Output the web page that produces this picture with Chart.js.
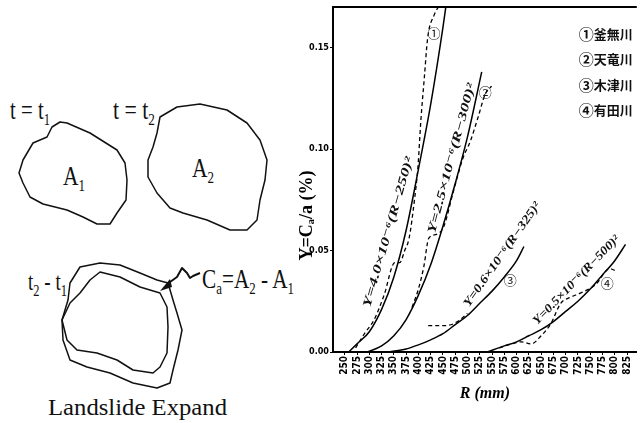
<!DOCTYPE html>
<html lang="ja">
<head>
  <meta charset="UTF-8">
  <title>Landslide Expand - Y = Ca/a と R</title>
  <script src="https://cdn.jsdelivr.net/npm/chart.js"></script>
  <style>
    html, body { margin: 0; padding: 0; background: #fff; }
    .page { position: relative; width: 640px; height: 423px; overflow: hidden; }
    .sketch { position: absolute; left: 0; top: 0; }
    .sketch text { font-family: "Liberation Serif", "Times New Roman", Tinos, "DejaVu Serif", "Noto Serif", serif; }
    .chart-box { position: absolute; left: 295px; top: 0; width: 345px; height: 423px; }
  </style>
</head>
<body>
<div class="page">
  <!-- left: landslide area sketch -->
  <svg class="sketch" width="295" height="423" viewBox="0 0 295 423">
    <g fill="none" stroke="#111" stroke-width="1.5" stroke-linejoin="round">
      <polygon points="60,122 67,123 90,133 117,150 125,163 127,180 126,200 117,213 110,224 97,224 83,217 67,210 43,204 30,197 23,183 19,173 23,160 33,143 47,137 52,127" />
      <polygon points="160,117 177,107 200,104 227,110 247,123 260,140 267,160 265,180 260,200 257,220 247,230 230,230 207,220 183,213 170,208 157,193 148,177 148,160 153,147 157,133" />
      <polygon points="80,267 100,263 120,265 140,273 157,280 168,283 173,300 177,313 182,330 178,350 173,370 170,383 157,388 133,383 110,373 87,367 70,360 63,340 62,320 68,300 70,283" />
      <polygon points="100,272 120,277 140,287 160,293 167,307 168,327 167,353 160,367 153,373 133,370 117,360 97,353 77,350 67,340 62,320 70,303 80,293 90,280" />
      <polyline points="200,273 193,276 190,278 187,273 182,268 177,277 170,282 166,286" stroke-width="2" />
    </g>
    <polygon points="160,291 170,279 172,287" fill="#111" />
    <g fill="#111">
      <text x="10" y="119" font-size="28" textLength="40" lengthAdjust="spacingAndGlyphs">t = t<tspan dy="6" font-size="17">1</tspan></text>
      <text x="113" y="119" font-size="28" textLength="42" lengthAdjust="spacingAndGlyphs">t = t<tspan dy="6" font-size="17">2</tspan></text>
      <text x="63" y="185" font-size="28" textLength="22" lengthAdjust="spacingAndGlyphs">A<tspan dy="6" font-size="17">1</tspan></text>
      <text x="192" y="177" font-size="28" textLength="22" lengthAdjust="spacingAndGlyphs">A<tspan dy="6" font-size="17">2</tspan></text>
      <text x="28" y="290" font-size="26" textLength="39" lengthAdjust="spacingAndGlyphs">t<tspan dy="6" font-size="17">2</tspan><tspan dy="-6"> - t</tspan><tspan dy="6" font-size="17">1</tspan></text>
      <text x="202" y="288" font-size="28" textLength="92" lengthAdjust="spacingAndGlyphs">C<tspan dy="6" font-size="17">a</tspan><tspan dy="-6">=A</tspan><tspan dy="6" font-size="17">2</tspan><tspan dy="-6"> - A</tspan><tspan dy="6" font-size="17">1</tspan></text>
      <text x="48" y="415" font-size="23" textLength="179" lengthAdjust="spacingAndGlyphs">Landslide Expand</text>
    </g>
  </svg>

  <div class="chart-box"><canvas id="expandChart" width="345" height="423"></canvas></div>
</div>

<script>
  // tick labels
  const xTicks = [250, 275, 300, 325, 350, 375, 400, 425, 450, 475, 500, 525, 550, 575, 600, 625, 650, 675, 700, 725, 750, 775, 800, 825];
  const yTicks = [0, 0.05, 0.10, 0.15];

  const marks = ["①", "②", "③", "④"];
  const rivers = ["釜無川", "天竜川", "木津川", "有田川"];
  const fitLabels = [
    "Y=4.0×10⁻⁶(R−250)²",
    "Y=2.5×10⁻⁶(R−300)²",
    "Y=0.6×10⁻⁶(R−325)²",
    "Y=0.5×10⁻⁶(R−500)²"
  ];

  // fitted curves (solid)
  const fit1R = [258, 275, 300, 325, 350, 375, 400, 425, 450, 457];
  const fit1Y = [0, 0.004, 0.010, 0.021, 0.037, 0.060, 0.090, 0.122, 0.160, 0.172];
  const fit2R = [296, 325, 350, 375, 400, 425, 450, 475, 500, 529];
  const fit2Y = [0, 0.003, 0.008, 0.016, 0.028, 0.043, 0.062, 0.083, 0.106, 0.138];
  const fit3R = [340, 375, 400, 425, 450, 475, 500, 525, 550, 575, 600, 615];
  const fit3Y = [0, 0.0015, 0.0035, 0.006, 0.009, 0.0135, 0.018, 0.024, 0.030, 0.037, 0.045, 0.052];
  const fit4R = [540, 575, 600, 625, 650, 675, 700, 725, 750, 775, 800, 822];
  const fit4Y = [0, 0.003, 0.005, 0.008, 0.011, 0.015, 0.020, 0.025, 0.031, 0.038, 0.045, 0.053];

  // observed (dashed)
  const obs1R = [272, 290, 310, 330, 352, 362, 372, 381, 392, 399, 405, 412, 419, 432, 446];
  const obs1Y = [0.002, 0.009, 0.016, 0.028, 0.044, 0.044, 0.050, 0.056, 0.075, 0.091, 0.114, 0.135, 0.155, 0.166, 0.172];
  const obs2R = [387, 400, 411, 421, 437, 452, 470, 490, 506, 522, 536, 549];
  const obs2Y = [0.022, 0.031, 0.042, 0.056, 0.058, 0.062, 0.078, 0.095, 0.104, 0.116, 0.127, 0.131];
  const obs3R = [420, 438, 456, 480, 500];
  const obs3Y = [0.013, 0.013, 0.013, 0.015, 0.019];
  const obs4R = [565, 590, 610, 630, 650, 670, 690, 710, 730, 760, 790, 802];
  const obs4Y = [0.002, 0.004, 0.005, 0.004, 0.008, 0.014, 0.024, 0.027, 0.029, 0.033, 0.041, 0.040];

  // where the equation / circled numbers sit (data units) and their tilt
  const eqAt = [[339, 0.059], [468, 0.0954], [571, 0.048], [722, 0.0354]];
  const eqAngle = [-74, -75, -55, -46];
  const eqLength = [156, 155, 125, 119];
  const markAt = [[432, 0.157], [536, 0.128], [587, 0.0354], [785, 0.0339]];

  function pts(rs, ys) {
    return rs.map((r, i) => ({ x: r, y: ys[i] }));
  }

  const solid = { borderColor: "#000", borderWidth: 1.5, pointRadius: 0, cubicInterpolationMode: "monotone", fill: false };
  const dashed = { borderColor: "#000", borderWidth: 1.3, borderDash: [4, 3], pointRadius: 0, cubicInterpolationMode: "monotone", fill: false };

  const fits = [[fit1R, fit1Y], [fit2R, fit2Y], [fit3R, fit3Y], [fit4R, fit4Y]];
  const obs = [[obs1R, obs1Y], [obs2R, obs2Y], [obs3R, obs3Y], [obs4R, obs4Y]];

  const datasets = [];
  fits.forEach((f, i) => datasets.push({ ...solid, label: marks[i] + " " + rivers[i] + " " + fitLabels[i], data: pts(f[0], f[1]) }));
  obs.forEach((o, i) => datasets.push({ ...dashed, label: marks[i] + " " + rivers[i] + " 実測", data: pts(o[0], o[1]) }));

  const serifFont = '"Liberation Serif", "Times New Roman", Tinos, "DejaVu Serif", serif';

  // equations, circled numbers, legend and top frame line
  const annotate = {
    id: "annotate",
    afterDatasetsDraw(chart) {
      const { ctx, chartArea, scales: { x, y } } = chart;
      ctx.save();
      ctx.strokeStyle = "#000";
      ctx.lineWidth = 2;
      ctx.beginPath();
      ctx.moveTo(chartArea.left, chartArea.top);
      ctx.lineTo(chartArea.right, chartArea.top);
      ctx.stroke();

      ctx.fillStyle = "#111";
      ctx.textAlign = "center";
      ctx.textBaseline = "middle";
      ctx.font = "italic bold 12px " + serifFont;
      fitLabels.forEach((t, i) => {
        const w = ctx.measureText(t).width;
        ctx.save();
        ctx.translate(x.getPixelForValue(eqAt[i][0]), y.getPixelForValue(eqAt[i][1]));
        ctx.rotate(eqAngle[i] * Math.PI / 180);
        ctx.scale(eqLength[i] / w, 1);
        ctx.fillText(t, 0, 0);
        ctx.restore();
      });

      ctx.font = '13px "Noto Sans CJK JP", sans-serif';
      marks.forEach((m, i) => {
        ctx.fillText(m, x.getPixelForValue(markAt[i][0]), y.getPixelForValue(markAt[i][1]));
      });

      // legend, top right
      ctx.textAlign = "left";
      rivers.forEach((r, i) => {
        const ly = 34 + i * 25.5;
        ctx.font = 'bold 15px "Noto Sans CJK JP", sans-serif';
        ctx.fillText(marks[i], chartArea.right - 58, ly);
        ctx.font = 'bold 13px "Noto Sans CJK JP", sans-serif';
        ctx.fillText(r, chartArea.right - 43, ly);
      });
      ctx.restore();
    }
  };

  function createExpandChart() {
    const ctx = document.getElementById("expandChart").getContext("2d");
    new Chart(ctx, {
      type: "line",
      data: { datasets: datasets },
      options: {
        responsive: false,
        animation: false,
        devicePixelRatio: 1,
        layout: { padding: { top: 7, right: 0, bottom: 0, left: 0 } },
        plugins: { legend: { display: false }, tooltip: { enabled: false } },
        scales: {
          x: {
            type: "linear",
            min: 226,
            max: 845,
            afterBuildTicks: s => { s.ticks = xTicks.map(v => ({ value: v })); },
            afterFit: s => { s.height = 71; },
            border: { color: "#000", width: 2 },
            grid: { drawOnChartArea: false, tickLength: 3, color: "#000" },
            ticks: {
              autoSkip: false,
              minRotation: 90,
              maxRotation: 90,
              padding: 1,
              color: "#000",
              font: { family: '"DejaVu Sans Condensed", "Liberation Sans Narrow", sans-serif', size: 10, weight: "bold" }
            },
            title: {
              display: true,
              text: "R (mm)",
              color: "#000",
              padding: { top: 20, bottom: 20 },
              font: { family: serifFont, size: 16, weight: "bold", style: "italic" }
            }
          },
          y: {
            min: 0,
            max: 0.17,
            afterBuildTicks: s => { s.ticks = yTicks.map(v => ({ value: v })); },
            afterFit: s => { s.width = 38; },
            border: { color: "#000", width: 2 },
            grid: { drawOnChartArea: false, tickLength: 3, color: "#000" },
            ticks: {
              padding: 1,
              color: "#000",
              callback: v => v.toFixed(2),
              font: { family: '"DejaVu Sans Condensed", "Liberation Sans Narrow", sans-serif', size: 9, weight: "bold" }
            },
            title: {
              display: true,
              // trailing em spaces push the visible text down toward where it sits in the figure
              text: "Y=Cₐ/a (%)\u2003\u2003\u2003\u2003",
              color: "#000",
              padding: { top: 2, bottom: 2 },
              font: { family: serifFont, size: 18, weight: "bold" }
            }
          }
        }
      },
      plugins: [annotate]
    });
  }

  document.addEventListener("DOMContentLoaded", () => {
    createExpandChart();
  });
</script>
</body>
</html>
